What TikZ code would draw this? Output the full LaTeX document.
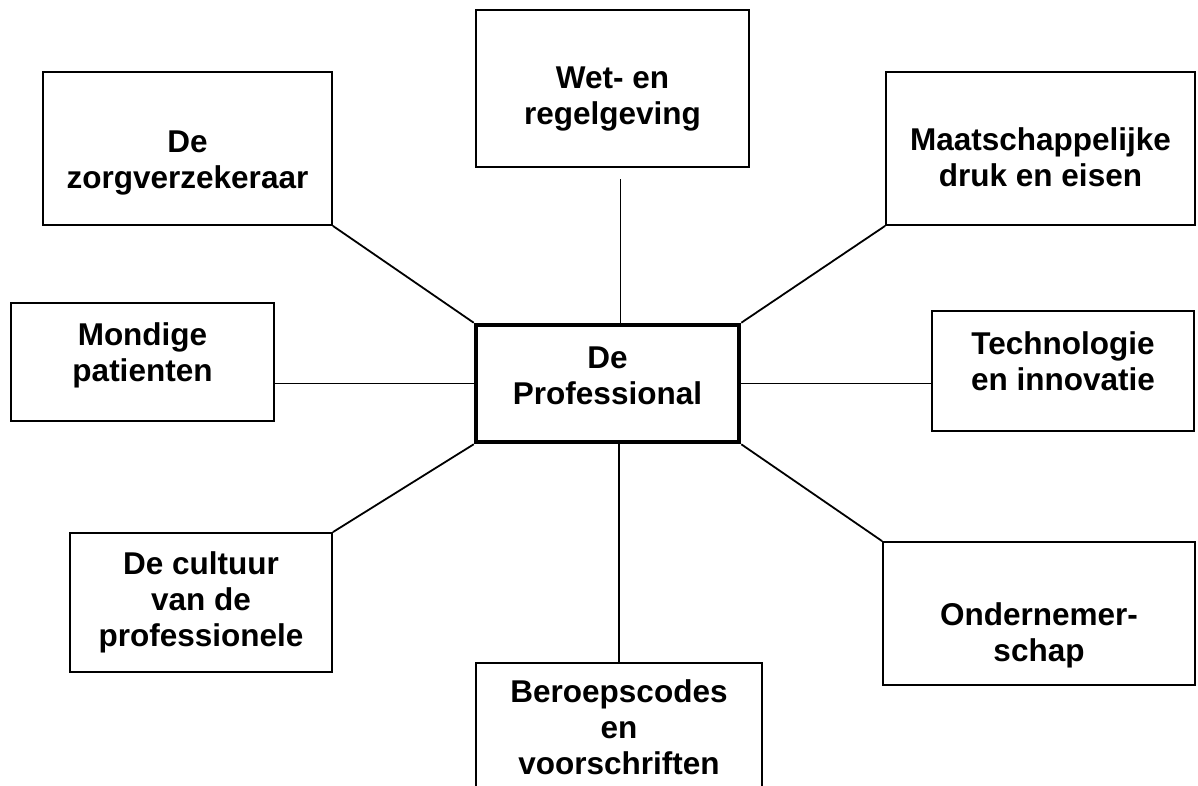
\documentclass[tikz,border=0pt]{standalone}
\usepackage{fontspec}
\setmainfont{Liberation Sans}
\begin{document}
\begin{tikzpicture}[x=1pt,y=-1pt,
		factor/.style={draw, line width=1.8pt},
		caption/.style={align=center, inner sep=0pt,
			font=\fontsize{31.5}{36}\selectfont\bfseries},
		link/.style={line width=1.8pt}]
		\useasboundingbox (0,0) rectangle (1198,785);
		\clip (0,0) rectangle (1198,785);

		% centre
		\node [factor, line width=4.5pt, minimum width=263pt, minimum height=117pt]
			(prof) at (607.5,383.5) {};
		\node [caption, yshift=8pt] at (prof) {De\\Professional};

		% factors round the professional
		\node [factor, minimum width=273pt, minimum height=157pt] (wet) at (612.5,88.5) {};
		\node [caption, yshift=-10pt] at (wet) {Wet- en\\regelgeving};

		\node [factor, minimum width=289pt, minimum height=153pt] (verz) at (187.5,148.5) {};
		\node [caption, yshift=-14pt] at (verz) {De\\zorgverzekeraar};

		\node [factor, minimum width=309pt, minimum height=153pt] (maat) at (1040.5,148.5) {};
		\node [caption, yshift=-9pt] at (maat) {Maatschappelijke\\druk en eisen};

		\node [factor, minimum width=263pt, minimum height=118pt] (mondig) at (142.5,362) {};
		\node [caption, yshift=7pt] at (mondig) {Mondige\\patienten};

		\node [factor, minimum width=262pt, minimum height=120pt] (tech) at (1063,371) {};
		\node [caption, yshift=10pt] at (tech) {Technologie\\en innovatie};

		\node [factor, minimum width=262pt, minimum height=139pt] (cult) at (201,602.5) {};
		\node [caption] at (cult) {De cultuur\\van de\\professionele};

		\node [factor, minimum width=286pt, minimum height=134pt] (beroep) at (619,730) {};
		\node [caption, yshift=3pt] at (beroep) {Beroepscodes\\en\\voorschriften};

		\node [factor, minimum width=312pt, minimum height=143pt] (onder) at (1039,613.5) {};
		\node [caption, yshift=-22pt] at (onder) {Ondernemer-\\schap};

		% connectors
		\draw [link] ([xshift=13pt]prof.north) -- ([xshift=8pt,yshift=-11pt]wet.south);
		\draw [link] (prof.north west) -- (verz.south east);
		\draw [link] (prof.north east) -- (maat.south west);
		\draw [link] (prof.west) -- (prof.west -| mondig.east);
		\draw [link] (prof.east) -- (prof.east -| tech.west);
		\draw [link] (prof.south west) -- (cult.north east);
		\draw [link] (beroep.north) -- (beroep.north |- prof.south);
		\draw [link] (prof.south east) -- (onder.north west);
	\end{tikzpicture}
\end{document}
